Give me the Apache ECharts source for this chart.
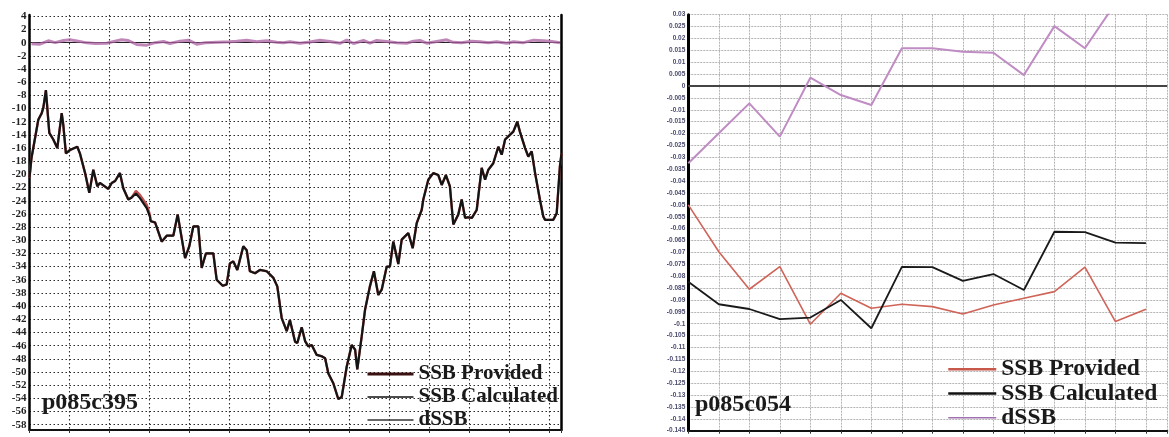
<!DOCTYPE html>
<html>
<head>
<meta charset="utf-8">
<script src="https://cdn.jsdelivr.net/npm/echarts@6/dist/echarts.min.js"></script>
<style>
html, body { margin: 0; padding: 0; background: #fff; }
#chart { width: 1169px; height: 437px; }
</style>
</head>
<body>
<div id="chart"></div>
<script>
// ---- p085c395 (left panel): step index vs SSB ----
const leftSteps = [0.0, 0.5, 2.2, 3.05, 3.45, 4.1, 4.95, 5.95, 6.95, 7.2, 8.05, 8.45, 9.1, 10.1, 11.95, 12.6, 13.9, 14.95, 15.95, 16.95,
  17.6, 19.7, 20.55, 21.4, 22.6, 23.45, 24.7, 25.55, 26.6, 27.6, 29.3, 30.1, 30.3, 31.4, 33.05, 34.3, 35.95, 37.05, 38.9, 39.95,
  40.95, 42.2, 43.05, 44.1, 45.95, 46.8, 48.3, 49.3, 50.1, 50.95, 51.95, 53.45, 54.3, 55.1, 56.4, 57.6, 59.3, 60.95, 61.95, 63.05,
  64.3, 65.1, 66.4, 66.95, 68.05, 68.9, 69.7, 70.55, 71.8, 73.05, 73.9, 74.7, 75.95, 77.2, 78.05, 79.3, 80.55, 81.4, 81.95, 83.05,
  83.9, 85.1, 86.1, 87.2, 88.05, 89.3, 90.1, 90.95, 92.2, 93.05, 94.7, 95.8, 96.8, 98.05, 98.45, 99.7, 100.95, 102.2, 103.05, 104.1,
  105.1, 105.95, 107.2, 108.05, 108.9, 109.6, 110.6, 111.8, 113.05, 113.9, 114.7, 115.95, 117.2, 118.05, 118.9, 120.1, 120.95, 121.95, 122.6, 123.9,
  124.7, 125.55, 126.4, 127.6, 128.45, 128.9, 130.95, 131.8, 132.6, 133.0];
const leftCalculated = [-20.5, -17.5, -11.7, -10.7, -9.9, -7.2, -13.7, -14.7, -16.0, -16.3, -10.7, -12.5, -16.8, -16.3, -15.8, -16.8, -19.8, -22.8, -19.3, -21.8,
  -21.3, -22.2, -21.3, -21.0, -19.8, -22.1, -23.8, -23.5, -22.9, -23.6, -25.1, -26.4, -27.1, -27.3, -30.2, -29.3, -29.3, -26.1, -32.7, -30.9,
  -27.9, -27.9, -34.2, -32.0, -32.0, -36.0, -36.9, -36.7, -33.5, -33.2, -34.5, -30.9, -31.5, -34.7, -35.0, -34.5, -34.7, -35.7, -37.0, -41.8,
  -43.8, -42.1, -45.4, -45.6, -43.2, -45.3, -46.1, -45.9, -47.4, -47.6, -47.9, -50.2, -51.7, -54.1, -53.8, -49.2, -45.9, -46.6, -49.6, -44.6,
  -40.5, -37.0, -34.7, -38.3, -37.5, -34.0, -34.0, -30.2, -33.6, -29.9, -28.9, -31.2, -27.4, -25.4, -23.8, -20.8, -19.8, -20.1, -21.6, -20.1,
  -21.8, -27.6, -26.1, -23.8, -26.6, -26.5, -26.6, -25.4, -19.0, -20.8, -19.3, -18.3, -15.8, -17.0, -14.7, -14.0, -13.5, -12.0, -13.5, -16.0,
  -17.3, -16.5, -19.8, -23.8, -26.4, -26.9, -26.9, -25.9, -18.8, -16.8];
const leftProvided = [-20.5, -17.5, -11.7, -10.7, -9.9, -7.2, -13.7, -14.7, -16.0, -16.3, -10.7, -12.5, -16.8, -16.3, -15.8, -16.8, -19.8, -22.8, -19.3, -21.8,
  -21.3, -22.2, -21.3, -21.0, -19.8, -22.1, -23.8, -23.5, -22.5, -23.1, -24.6, -26.1, -27.1, -27.3, -30.2, -29.3, -29.3, -26.1, -32.7, -30.9,
  -27.9, -27.9, -34.2, -32.0, -32.0, -36.0, -36.9, -36.7, -33.5, -33.2, -34.5, -30.9, -31.5, -34.7, -35.0, -34.5, -34.7, -35.7, -37.0, -41.8,
  -43.8, -42.1, -45.4, -45.6, -43.2, -45.3, -46.1, -45.9, -47.4, -47.6, -47.9, -50.2, -51.7, -54.1, -53.8, -49.2, -45.9, -46.6, -49.6, -44.6,
  -40.5, -37.0, -34.7, -38.3, -37.5, -34.0, -34.0, -30.2, -33.6, -29.9, -28.9, -31.2, -27.4, -25.4, -23.8, -20.8, -19.8, -20.1, -21.6, -20.1,
  -21.8, -27.6, -26.1, -23.8, -26.6, -26.5, -26.6, -25.4, -19.0, -20.8, -19.3, -18.3, -15.8, -17.0, -14.7, -14.0, -13.5, -12.0, -13.5, -16.0,
  -17.3, -16.5, -19.8, -23.8, -26.4, -26.9, -26.9, -25.9, -18.8, -16.8];
const leftDeltaSteps = [0.5, 2.6, 4.7, 6.4, 8.5, 10.1, 12.2, 14.3, 16.4, 19.3, 21.4, 23.0, 24.7, 26.8, 29.3, 31.4, 33.5, 35.1, 37.6, 39.7,
  41.8, 43.9, 46.8, 50.1, 51.8, 54.3, 56.8, 59.3, 61.8, 63.5, 65.1, 67.6, 70.1, 72.6, 75.1, 77.6, 79.3, 81.0, 83.5, 85.1,
  86.8, 89.3, 91.8, 94.3, 96.0, 97.6, 99.3, 101.8, 104.3, 105.9, 108.0, 110.5, 112.6, 114.7, 116.8, 119.3, 121.0, 123.5, 126.0, 128.5,
  130.6, 132.6];
const leftDelta = [-0.18, -0.23, 0.28, 0.0, 0.33, 0.43, 0.23, -0.03, -0.13, -0.08, 0.23, 0.43, 0.33, -0.28, -0.38, 0.0, 0.18, -0.13, 0.23, 0.38,
  -0.23, 0.0, 0.08, 0.13, 0.23, 0.38, 0.13, 0.28, 0.08, 0.0, 0.15, -0.1, 0.1, 0.38, 0.18, -0.1, 0.38, -0.13, 0.33, -0.08,
  0.33, 0.18, 0.0, -0.08, 0.23, 0.33, -0.08, 0.18, 0.43, 0.05, 0.0, 0.23, 0.13, 0.0, 0.13, -0.08, 0.13, 0.0, 0.38, 0.28,
  0.18, 0.0];
const leftTicks = [4, 2, 0, -2, -4, -6, -8, -10, -12, -14, -16, -18, -20, -22, -24, -26, -28, -30, -32, -34, -36, -38, -40,
  -42, -44, -46, -48, -50, -52, -54, -56, -58];

// ---- p085c054 (right panel): 16 steps ----
const rightSteps = [0, 1, 2, 3, 4, 5, 6, 7, 8, 9, 10, 11, 12, 13, 14, 15];
const rightProvided = [-0.0500, -0.0697, -0.0855, -0.0760, -0.1002, -0.0872, -0.0935, -0.0918, -0.0928, -0.0959, -0.0921, -0.0893, -0.0865, -0.0762, -0.0991, -0.0939];
const rightCalculated = [-0.0823, -0.0918, -0.0938, -0.0981, -0.0974, -0.0900, -0.1019, -0.0761, -0.0762, -0.0820, -0.0791, -0.0858, -0.0613, -0.0615, -0.0659, -0.0661];
const rightDelta = [-0.0325, -0.0199, -0.0073, -0.0213, 0.0035, -0.0038, -0.0080, 0.0159, 0.0159, 0.0144, 0.0140, 0.0046, 0.0252, 0.0159, 0.0348, 0.0400];

const seriesNames = ['SSB Provided', 'SSB Calculated', 'dSSB'];

const pairs = (xs, ys) => xs.map((x, k) => [x, ys[k]]);

const serif = 'Liberation Serif';
const leftGrid = { color: '#2a2a2a', type: [1.5, 2.5], width: 1.1 };
const rightGrid = { color: '#b4b4b4', type: [2, 1], width: 1 };
const zeroLine = (color, width) => ({
  silent: true, symbol: ['none', 'none'], label: { show: false },
  lineStyle: { color: color, width: width, type: 'solid' },
  data: [{ yAxis: 0 }]
});

const chart = echarts.init(document.getElementById('chart'), null, { renderer: 'canvas' });
chart.setOption({
  animation: false,
  backgroundColor: '#ffffff',
  title: [
    { text: 'p085c395', left: 42, top: 391, padding: 0,
      textStyle: { fontFamily: serif, fontWeight: 'bold', fontSize: 24, color: '#1a1a1a' } },
    { text: 'p085c054', left: 695, top: 393, padding: 0,
      textStyle: { fontFamily: serif, fontWeight: 'bold', fontSize: 24, color: '#1a1a1a' } }
  ],
  legend: [
    { orient: 'vertical', left: 366, top: 362.5, padding: 0, itemGap: 0, itemWidth: 46, itemHeight: 10,
      selectedMode: false, itemStyle: { opacity: 0 },
      textStyle: { fontFamily: serif, fontWeight: 'bold', fontSize: 21, color: '#1a1a1a', lineHeight: 23 },
      data: [
        { name: seriesNames[0], lineStyle: { color: '#3a1010', width: 3 } },
        { name: seriesNames[1], lineStyle: { color: '#111111', width: 1.5 } },
        { name: seriesNames[2], lineStyle: { color: '#333333', width: 1.5 } }
      ] },
    { orient: 'vertical', left: 947, top: 357, padding: 0, itemGap: 0, itemWidth: 48, itemHeight: 10,
      selectedMode: false, itemStyle: { opacity: 0 },
      textStyle: { fontFamily: serif, fontWeight: 'bold', fontSize: 23.5, color: '#1a1a1a', lineHeight: 24.3 },
      data: [
        { name: seriesNames[0], lineStyle: { color: '#c8584c', width: 2.5 } },
        { name: seriesNames[1], lineStyle: { color: '#111111', width: 2.5 } },
        { name: seriesNames[2], lineStyle: { color: '#a070b0', width: 1.5 } }
      ] }
  ],
  grid: [
    { left: 29.5, top: 15, width: 532, height: 415 },
    { left: 688.3, top: 14.7, width: 479, height: 416 }
  ],
  xAxis: [
    { gridIndex: 0, type: 'value', min: 0, max: 133, interval: 10,
      axisLine: { show: true, onZero: false, lineStyle: { color: '#111', width: 2 } },
      axisTick: { show: true, length: 3, lineStyle: { color: '#333' } },
      axisLabel: { show: false },
      splitLine: { show: true, lineStyle: leftGrid } },
    { gridIndex: 1, type: 'value', min: 0, max: 15.7, interval: 1,
      axisLine: { show: true, onZero: false, lineStyle: { color: '#111', width: 2 } },
      axisTick: { show: true, length: 3, lineStyle: { color: '#333' } },
      axisLabel: { show: false },
      splitLine: { show: true, lineStyle: rightGrid } }
  ],
  yAxis: [
    { gridIndex: 0, type: 'value', min: -58.8, max: 4.2,
      axisLine: { show: true, onZero: false, lineStyle: { color: '#000', width: 2.5 } },
      axisTick: { show: false, customValues: leftTicks },
      axisLabel: { customValues: leftTicks, fontFamily: serif, fontWeight: 'bold', fontSize: 11, color: '#222', margin: 3 },
      splitLine: { show: true, lineStyle: leftGrid } },
    { gridIndex: 0, type: 'value', position: 'right', min: -58.8, max: 4.2,
      axisLine: { show: true, onZero: false, lineStyle: { color: '#000', width: 2.5 } },
      axisTick: { show: false }, axisLabel: { show: false }, splitLine: { show: false } },
    { gridIndex: 1, type: 'value', min: -0.145, max: 0.03, interval: 0.005,
      axisLine: { show: true, onZero: false, lineStyle: { color: '#000', width: 3 } },
      axisTick: { show: false },
      axisLabel: { fontFamily: 'Liberation Sans', fontWeight: 'bold', fontSize: 6.5, color: '#4a4a6e', margin: 3 },
      splitLine: { show: true, lineStyle: rightGrid } }
  ],
  series: [
    { name: seriesNames[0], type: 'line', xAxisIndex: 0, yAxisIndex: 0, symbol: 'none', z: 3,
      lineStyle: { color: '#c05050', width: 2.4 },
      data: pairs(leftSteps, leftProvided) },
    { name: seriesNames[1], type: 'line', xAxisIndex: 0, yAxisIndex: 0, symbol: 'none', z: 4,
      lineStyle: { color: '#141414', width: 2.2 },
      data: pairs(leftSteps, leftCalculated) },
    { name: seriesNames[2], type: 'line', xAxisIndex: 0, yAxisIndex: 0, symbol: 'none', z: 5,
      lineStyle: { color: 'rgba(170,95,160,0.75)', width: 3 },
      markLine: zeroLine('#222', 1),
      data: pairs(leftDeltaSteps, leftDelta) },

    { name: seriesNames[0], type: 'line', xAxisIndex: 1, yAxisIndex: 2, symbol: 'none', z: 3,
      lineStyle: { color: '#cf6458', width: 1.6 },
      data: pairs(rightSteps, rightProvided) },
    { name: seriesNames[1], type: 'line', xAxisIndex: 1, yAxisIndex: 2, symbol: 'none', z: 4,
      lineStyle: { color: '#1a1a1a', width: 1.8 },
      data: pairs(rightSteps, rightCalculated) },
    { name: seriesNames[2], type: 'line', xAxisIndex: 1, yAxisIndex: 2, symbol: 'none', z: 5,
      lineStyle: { color: '#c08cc4', width: 2 },
      markLine: zeroLine('#444', 2),
      data: pairs(rightSteps, rightDelta) }
  ]
});
</script>
</body>
</html>
